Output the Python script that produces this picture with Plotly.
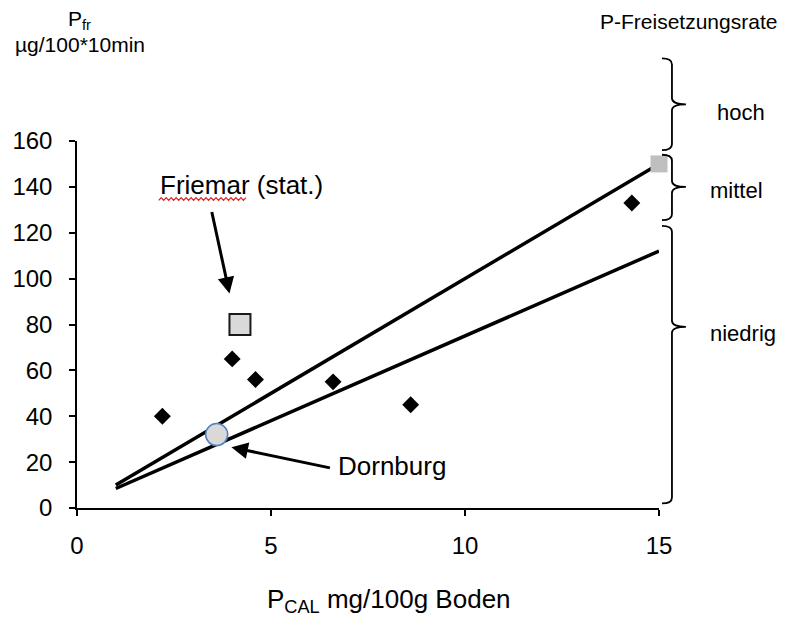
import plotly.graph_objects as go

# Measurements: P_CAL (mg/100 g soil) vs. P release rate (µg/100*10 min)
sites_x = [2.2, 4.0, 4.6, 6.6, 8.6, 14.3]
sites_y = [40, 65, 56, 55, 45, 133]

friemar_x = [4.2]
friemar_y = [80]

dornburg_x = [3.6]
dornburg_y = [32]

reference_x = [15.0]
reference_y = [150]

# Two reference lines (end points)
upper_line_x = [1, 15]
upper_line_y = [10, 150]
lower_line_x = [1, 15]
lower_line_y = [8.5, 112]

# Release-rate classes on the right: (label, bottom, tip, top) in y-axis units
classes = [
    ("hoch", 156, 176, 196),
    ("mittel", 125.5, 140, 154),
    ("niedrig", 2, 79, 123),
]

x_ticks = [0, 5, 10, 15]
y_ticks = [0, 20, 40, 60, 80, 100, 120, 140, 160]

W, H = 788, 618
L, R, T, B = 75, 129, 141, 110
PW, PH = W - L - R, H - T - B
Y_MAX = 160

FONT = "Liberation Sans, Arial, sans-serif"


def px_x(p):
    return (p - L) / PW


def px_y(p):
    return (H - B - p) / PH


def val_y(v):
    return v / Y_MAX


fig = go.Figure()

for lx, ly in ((upper_line_x, upper_line_y), (lower_line_x, lower_line_y)):
    fig.add_trace(go.Scatter(x=lx, y=ly, mode="lines",
                             line=dict(color="black", width=3.5),
                             hoverinfo="skip"))

fig.add_trace(go.Scatter(x=sites_x, y=sites_y, mode="markers", cliponaxis=False,
                         marker=dict(symbol="diamond", size=13, color="black")))
fig.add_trace(go.Scatter(x=friemar_x, y=friemar_y, mode="markers", cliponaxis=False,
                         marker=dict(symbol="square", size=21, color="#d9d9d9",
                                     line=dict(color="#1a1a1a", width=2))))
fig.add_trace(go.Scatter(x=dornburg_x, y=dornburg_y, mode="markers", cliponaxis=False,
                         marker=dict(symbol="circle", size=22, color="#d9d9d9",
                                     line=dict(color="#4f81bd", width=1.5))))
fig.add_trace(go.Scatter(x=reference_x, y=reference_y, mode="markers", cliponaxis=False,
                         marker=dict(symbol="square", size=17, color="#bfbfbf")))

# Curly braces marking the release-rate classes
x_end, x_spine, x_tip = px_x(662), px_x(672), px_x(686)
r = 6 / PH
shapes = []
for label, lo, mid, hi in classes:
    yt, ym, yb = val_y(hi), val_y(mid), val_y(lo)
    path = (
        f"M {x_end},{yt} Q {x_spine},{yt} {x_spine},{yt - r} "
        f"L {x_spine},{ym + r} Q {x_spine},{ym} {x_tip},{ym} "
        f"Q {x_spine},{ym} {x_spine},{ym - r} "
        f"L {x_spine},{yb + r} Q {x_spine},{yb} {x_end},{yb}"
    )
    shapes.append(dict(type="path", xref="paper", yref="paper", path=path,
                       line=dict(color="black", width=1.8)))

# Wavy red underline beneath the site name
wave_pts = []
x0p, x1p, ybase = 157, 245, 199
step = 2.5
i = 0
xp = x0p
while xp <= x1p:
    yp = ybase + (1.4 if i % 2 == 0 else -1.4)
    wave_pts.append(f"{px_x(xp)},{px_y(yp)}")
    xp += step
    i += 1
shapes.append(dict(type="path", xref="paper", yref="paper",
                   path="M " + " L ".join(wave_pts),
                   line=dict(color="#e02020", width=1.2)))


def paper_text(text, cx, cy, size):
    return dict(text=text, xref="paper", yref="paper",
                x=px_x(cx), y=px_y(cy), xanchor="center", yanchor="middle",
                showarrow=False, font=dict(size=size, family=FONT, color="black"))


annotations = [
    paper_text("P<sub>fr</sub>", 78, 20, 21),
    paper_text("µg/100*10min", 78, 45, 21),
    paper_text("P<sub>CAL</sub> mg/100g Boden", 388, 600, 26),
    paper_text("P-Freisetzungsrate", 689, 21, 21),
    dict(text="Friemar (stat.)", x=2.1, y=141, xanchor="left", yanchor="middle",
         showarrow=False, font=dict(size=26, family=FONT, color="black")),
    dict(text="Dornburg", x=6.68, y=18.5, xanchor="left", yanchor="middle",
         showarrow=False, font=dict(size=26, family=FONT, color="black")),
    # arrows pointing at the two highlighted sites
    dict(text="", x=3.93, y=93.5, ax=-18, ay=-83, showarrow=True,
         arrowhead=2, arrowsize=1.1, arrowwidth=3, arrowcolor="black"),
    dict(text="", x=3.98, y=26.5, ax=100, ay=21, showarrow=True,
         arrowhead=2, arrowsize=1.1, arrowwidth=3, arrowcolor="black"),
]

label_pos = {"hoch": (741, 112), "mittel": (737, 190), "niedrig": (743, 333)}
for label, lo, mid, hi in classes:
    cx, cy = label_pos[label]
    annotations.append(paper_text(label, cx, cy, 22))

axis_common = dict(showgrid=False, zeroline=False,
                   showline=True, linecolor="black", linewidth=1.5,
                   ticks="outside", ticklen=6, tickwidth=1.5, tickcolor="black",
                   tickfont=dict(size=24, family=FONT, color="black"))

fig.update_layout(
    width=W, height=H,
    margin=dict(l=L, r=R, t=T, b=B, pad=0),
    paper_bgcolor="white", plot_bgcolor="white",
    showlegend=False,
    shapes=shapes,
    annotations=annotations,
    xaxis=dict(range=[0, 15], tickvals=x_ticks, ticklabelstandoff=9, **axis_common),
    yaxis=dict(range=[0, Y_MAX], tickvals=y_ticks, ticklabelstandoff=12, **axis_common),
)

fig.write_html("out.html")
